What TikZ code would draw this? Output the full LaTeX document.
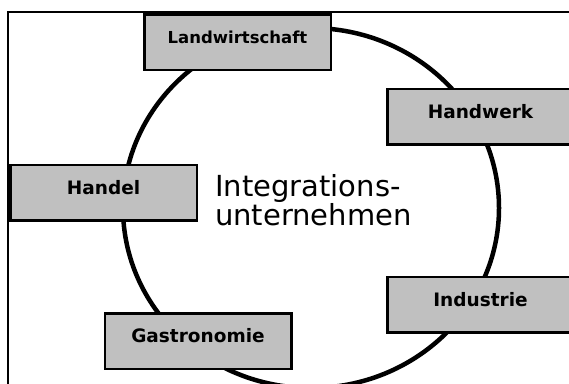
\documentclass[tikz,border=0pt]{standalone}
\usepackage{fontspec}
\setmainfont{DejaVu Sans}
\definecolor{boxgray}{HTML}{C0C0C0}
\tikzset{
  sector/.style={draw=black, line width=2.5pt, fill=boxgray, rectangle,
    minimum width=186.5pt, minimum height=55.5pt, inner sep=0pt,
    text height=3.4pt, text depth=0pt,
    font=\bfseries\fontsize{18.5}{18.5}\selectfont},
  narrowlabel/.style={font=\bfseries\fontsize{16.5}{16.5}\selectfont},
  centertext/.style={inner sep=0pt, anchor=base west, font=\fontsize{29}{29}\selectfont},
  ring/.style={draw=black, line width=4.5pt}
}
\begin{document}
\begin{tikzpicture}[x=1pt, y=-1pt]
\useasboundingbox (0,0) rectangle (569,383);
\clip (0,0) rectangle (569,383);
\fill[white] (0,0) rectangle (569,383);
% outer frame
\draw[line width=2.5pt] (8,12) rectangle (640,440);
% ring
\draw[ring] (311,208) ellipse [x radius=188pt, y radius=180pt];
% sector boxes
\node[sector, narrowlabel] (land) at (237.5,42) {Landwirtschaft};
\node[sector] (hand) at (480.5,116.5) {Handwerk};
\node[sector] (handel) at (103.5,192.5) {Handel};
\node[sector] (ind) at (480.5,304.5) {Industrie};
\node[sector] (gastro) at (198,341) {Gastronomie};
% center text
\node[centertext] (t1) at (215,196) {Integrations-};
\node[centertext] (t2) at (215,225) {unternehmen};
\end{tikzpicture}
\end{document}
